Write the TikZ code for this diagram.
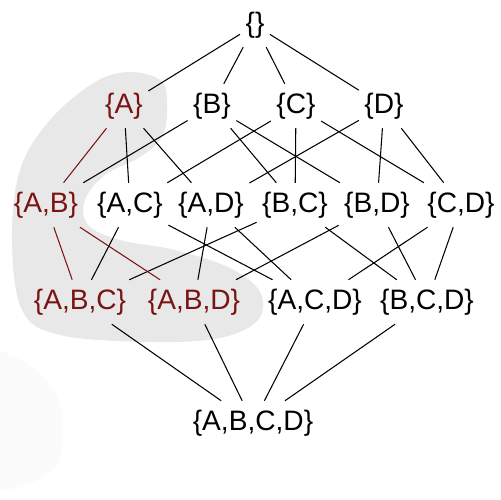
\documentclass[tikz,border=0pt]{standalone}
\usepackage{fontspec}
\setmainfont{Liberation Sans}
\usetikzlibrary{positioning}
\definecolor{hilite}{RGB}{122,20,20}
\definecolor{blobgray}{RGB}{232,232,232}

\begin{document}
\begin{tikzpicture}[
    x=0.02cm, y=-0.02cm,
    set/.style={inner xsep=3pt, inner ysep=5pt, font=\fontsize{16}{19}\selectfont},
    chosen/.style={set, text=hilite},
    edge/.style={line width=0.6pt, black},
    redge/.style={line width=0.6pt, hilite}
]
\useasboundingbox (0,0) rectangle (500,500);

% shaded region behind the highlighted sets
\fill[blobgray] plot[smooth cycle, tension=0.6] coordinates {(130,72) (160,80) (167,100) (163,135) (140,157) (105,175) (85,200) (88,225) (120,240) (175,250) (230,268) (260,292) (258,320) (220,338) (150,342) (60,335) (22,310) (12,240) (20,170) (50,120) (95,82)};
\fill[black!1.5] plot[smooth, tension=0.6] coordinates {(-5,348) (30,365) (55,392) (63,430) (55,468) (20,487) (-5,490)};

% sets
\node[set] (E) at (255,25) {\{\}};

\node[chosen] (A) at (124,106) {\{A\}};
\node[set] (B) at (212,106) {\{B\}};
\node[set] (C) at (296,106) {\{C\}};
\node[set] (D) at (384,106) {\{D\}};

\node[chosen] (AB) at (46,205) {\{A,B\}};
\node[set] (AC) at (130,205) {\{A,C\}};
\node[set] (AD) at (211,205) {\{A,D\}};
\node[set] (BC) at (295,205) {\{B,C\}};
\node[set] (BD) at (377,205) {\{B,D\}};
\node[set] (CD) at (461,205) {\{C,D\}};

\node[chosen] (ABC) at (80,302) {\{A,B,C\}};
\node[chosen] (ABD) at (194,302) {\{A,B,D\}};
\node[set] (ACD) at (315,302) {\{A,C,D\}};
\node[set] (BCD) at (427,302) {\{B,C,D\}};

\node[set] (ABCD) at (253,423) {\{A,B,C,D\}};

% covering relations
\foreach \a/\b in {E/A, E/B, E/C, E/D,
    A/AC, A/AD, B/AB, B/BC, B/BD, C/AC, C/BC, C/CD, D/AD, D/BD, D/CD,
    AC/ABC, AC/ACD, AD/ABD, AD/ACD, BC/ABC, BC/BCD, BD/ABD, BD/BCD, CD/ACD, CD/BCD,
    ABC/ABCD, ABD/ABCD, ACD/ABCD, BCD/ABCD}
  \draw[edge] (\a) -- (\b);
\foreach \a/\b in {A/AB, AB/ABC, AB/ABD}
  \draw[redge] (\a) -- (\b);

\end{tikzpicture}
\end{document}
